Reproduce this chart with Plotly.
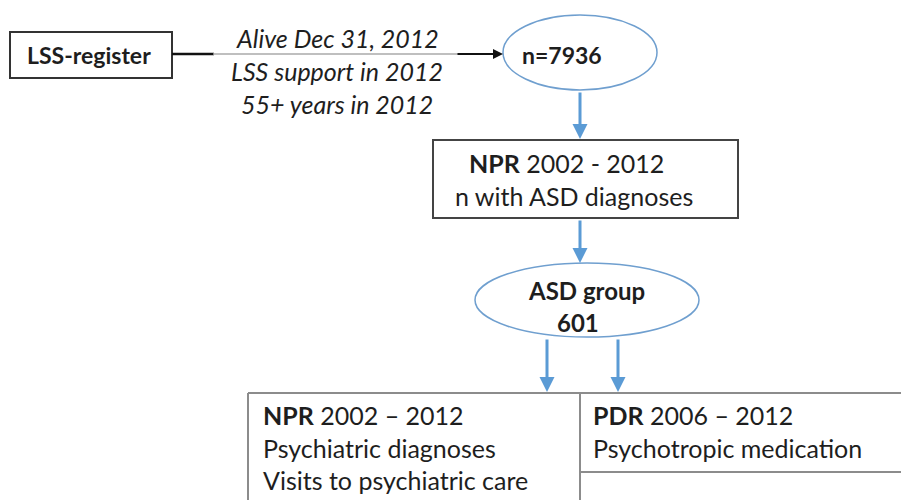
import plotly.graph_objects as go

# ---- content ----
start_label = "<b>LSS-register</b>"
criteria = ["Alive Dec 31, 2012", "LSS support in 2012", "55+ years in 2012"]
cohort_label = "<b>n=7936</b>"
npr_label = ["<b>NPR</b> 2002 - 2012", "n with ASD diagnoses"]
asd_label = ["<b>ASD group</b>", "<b>601</b>"]
left_lines = ["<b>NPR</b> 2002 – 2012", "Psychiatric diagnoses", "Visits to psychiatric care"]
right_lines = ["<b>PDR</b> 2006 – 2012", "Psychotropic medication"]

FONT = "Lato"
TXT = "#1e1e1e"
BLUE = "#5b9bd5"
ELL = "#6f9fcf"

W, H = 901, 500
fig = go.Figure()
fig.add_trace(go.Scatter(x=[0, W], y=[0, H], mode="markers",
                         marker=dict(opacity=0), hoverinfo="skip", showlegend=False))

shapes = []
ann = []

def text(x, y, s, size=24, italic=False, xanchor="center"):
    if italic:
        s = "<i>" + s + "</i>"
    ann.append(dict(x=x, y=y, text=s, showarrow=False, xanchor=xanchor, yanchor="middle",
                    font=dict(family=FONT, size=size, color=TXT)))

def arrow(x0, y0, x1, y1, color, width):
    ann.append(dict(x=x1, y=y1, ax=x0, ay=y0, xref="x", yref="y", axref="x", ayref="y",
                    showarrow=True, arrowhead=2, arrowsize=1.0, arrowwidth=width,
                    arrowcolor=color, text=""))

# LSS-register box
shapes.append(dict(type="rect", x0=10, x1=172, y0=32, y1=78,
                   line=dict(color="#333333", width=2), fillcolor="white"))
text(89, 55, start_label, size=23)

# connecting line
shapes.append(dict(type="line", x0=172, x1=214, y0=54, y1=54, line=dict(color="#111111", width=2.5)))
shapes.append(dict(type="line", x0=213, x1=460, y0=54, y1=54, line=dict(color="#aaaaaa", width=1.5)))
arrow(456, 54, 503, 54, "#111111", 2)

for i, c in enumerate(criteria):
    text(337, 38 + i * 33, c, size=25, italic=True)

# n=7936 ellipse
shapes.append(dict(type="circle", x0=503, x1=657, y0=15, y1=90,
                   line=dict(color=ELL, width=1.5), fillcolor="rgba(0,0,0,0)"))
text(562, 55, cohort_label, size=23)

arrow(580, 91, 580, 139, BLUE, 3)

# NPR box
shapes.append(dict(type="rect", x0=433, x1=738, y0=140, y1=218,
                   line=dict(color="#444444", width=2), fillcolor="white"))
text(566, 163, npr_label[0], size=25)
text(574, 196, npr_label[1], size=25)

arrow(580, 219, 580, 263, BLUE, 3)

# ASD ellipse
shapes.append(dict(type="circle", x0=475, x1=699, y0=263, y1=337,
                   line=dict(color=ELL, width=1.5), fillcolor="rgba(0,0,0,0)"))
text(586, 290, asd_label[0], size=24)
text(578, 322, asd_label[1], size=24)

arrow(547, 338, 547, 392, BLUE, 3)
arrow(618, 338, 618, 392, BLUE, 3)

# bottom boxes
GR = "#8c8c8c"
shapes.append(dict(type="line", x0=248, x1=901, y0=393, y1=393, line=dict(color=GR, width=2)))
shapes.append(dict(type="line", x0=248, x1=248, y0=393, y1=500, line=dict(color=GR, width=2)))
shapes.append(dict(type="line", x0=580, x1=580, y0=393, y1=500, line=dict(color=GR, width=2)))
shapes.append(dict(type="line", x0=580, x1=901, y0=472, y1=472, line=dict(color=GR, width=2)))

for i, s in enumerate(left_lines):
    text(261, 415 + i * 32.5, s, size=25, xanchor="left")
for i, s in enumerate(right_lines):
    text(591, 415 + i * 32.5, s, size=25, xanchor="left")

fig.update_layout(
    width=W, height=H, margin=dict(l=0, r=0, t=0, b=0),
    plot_bgcolor="white", paper_bgcolor="white",
    xaxis=dict(range=[0, W], visible=False, fixedrange=True),
    yaxis=dict(range=[H, 0], visible=False, fixedrange=True),
    shapes=shapes, annotations=ann, showlegend=False,
)
fig.write_html("out.html", config=dict(displayModeBar=False),
               post_script="document.body.style.margin='0px';document.body.style.overflow='hidden';")
